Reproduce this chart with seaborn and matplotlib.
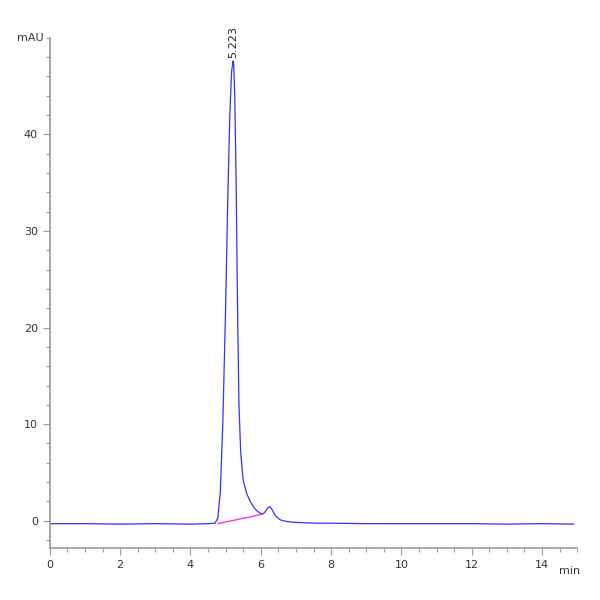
import matplotlib
matplotlib.use("Agg")
import matplotlib.pyplot as plt
import seaborn as sns
import pandas as pd
from matplotlib.ticker import MultipleLocator

time = [0.0, 1.0, 2.0, 3.0, 4.0, 4.5, 4.7, 4.78, 4.85, 4.92, 5.0, 5.06, 5.12, 5.17, 5.21, 5.23, 5.26, 5.3, 5.34, 5.38,
        5.43, 5.5, 5.6, 5.7, 5.8, 5.9, 6.0, 6.06, 6.12, 6.2, 6.26, 6.33, 6.42, 6.55, 6.7, 6.9, 7.2, 7.6, 8.0, 9.0,
        10.0, 11.0, 12.0, 13.0, 14.0, 14.9]
signal = [-0.3, -0.3, -0.35, -0.3, -0.35, -0.3, -0.25, 0.3, 3.0, 10.0, 22.0, 33.0, 42.0, 46.5, 47.6, 47.4, 44.0, 35.0, 22.0, 12.0,
          7.0, 4.2, 2.8, 2.0, 1.4, 1.0, 0.75, 0.7, 0.9, 1.35, 1.45, 1.1, 0.5, 0.1, -0.05, -0.15, -0.2, -0.25, -0.25, -0.3,
          -0.3, -0.3, -0.3, -0.35, -0.3, -0.35]
base_t = [4.78, 6.02]
base_y = [-0.3, 0.65]
peak_rt = 5.223
peak_h = 47.6

sns.set_style("white")
fig = plt.figure(figsize=(6, 6), dpi=100)
ax = fig.add_axes([0.083, 0.087, 0.879, 0.85])
sns.lineplot(x=time, y=signal, ax=ax, color="#3333ff", linewidth=0.9, estimator=None, sort=False)
sns.lineplot(x=base_t, y=base_y, ax=ax, color="#ff33dd", linewidth=1.0, estimator=None)
ax.text(peak_rt, peak_h + 0.3, "5.223", rotation=90, ha="center", va="bottom", fontsize=8, color="#222222")

ax.set_xlim(0, 15)
ax.set_ylim(-2.8, 50)
ax.set_xticks([0, 2, 4, 6, 8, 10, 12, 14])
ax.set_yticks([0, 10, 20, 30, 40])
ax.xaxis.set_minor_locator(MultipleLocator(0.5))
ax.yaxis.set_minor_locator(MultipleLocator(2))
ax.tick_params(axis="both", which="major", direction="out", length=5, width=0.8, colors="#999999",
               labelcolor="#333333", labelsize=8, bottom=True, left=True)
ax.tick_params(axis="both", which="minor", direction="out", length=3, width=0.8, colors="#999999",
               bottom=True, left=True)
for s in ["top", "right"]:
    ax.spines[s].set_visible(False)
for s in ["left", "bottom"]:
    ax.spines[s].set_color("#999999")
    ax.spines[s].set_linewidth(1.2)
ax.text(-0.012, 1.0, "mAU", transform=ax.transAxes, ha="right", va="center", fontsize=8, color="#333333")
ax.text(0.985, -0.045, "min", transform=ax.transAxes, ha="center", va="center", fontsize=8, color="#333333")
ax.set_xlabel("")
ax.set_ylabel("")
fig.savefig("out.png", dpi=100)
